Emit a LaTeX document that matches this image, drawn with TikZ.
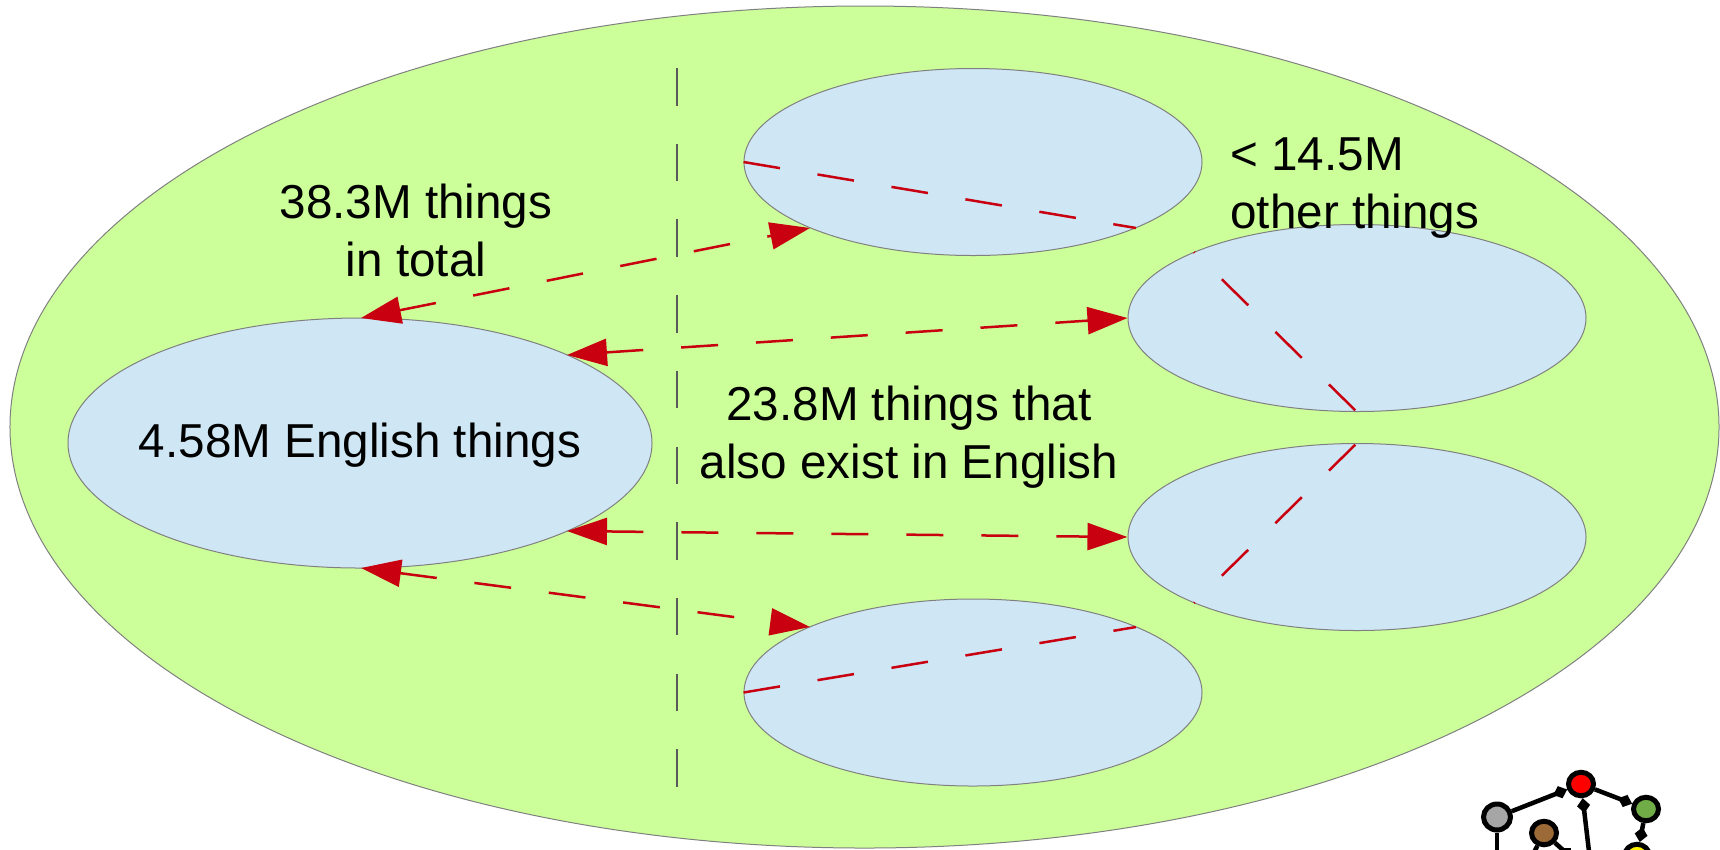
\documentclass[tikz,border=0pt]{standalone}
\usepackage{fontspec}
\setmainfont{Liberation Sans}
\usetikzlibrary{shapes.geometric,arrows.meta}
\definecolor{biggreen}{HTML}{CCFF99}
\definecolor{paleblue}{HTML}{CFE7F5}
\definecolor{linkred}{HTML}{C9000F}
\definecolor{edgegray}{HTML}{808080}
\definecolor{logogray}{HTML}{A6A6A6}
\definecolor{logobrown}{HTML}{9C6A36}
\definecolor{logogreen}{HTML}{70AD47}
\tikzset{
  x=0.2mm,y=-0.2mm,
  outer/.style={ellipse,draw=edgegray,line width=0.2mm,fill=biggreen,inner sep=0pt,minimum width=341.8mm,minimum height=168.4mm},
  lang/.style={ellipse,draw=edgegray,line width=0.2mm,fill=paleblue,inner sep=0pt,minimum width=91.6mm,minimum height=37.4mm},
  english/.style={ellipse,draw=edgegray,line width=0.2mm,fill=paleblue,inner sep=0pt,minimum width=116.8mm,minimum height=50mm},
  caption/.style={font=\fontsize{27.1pt}{33pt}\selectfont,align=center,inner sep=0pt},
  link/.style={draw=linkred,line width=0.5mm,dash pattern=on 7.4mm off 7.6mm},
  sitelink/.style={link,{Triangle[length=8mm,width=5.4mm,fill=linkred,color=linkred,sep=0pt]}-{Triangle[length=8mm,width=5.4mm,fill=linkred,color=linkred,sep=0pt]}},
  faint/.style={draw=linkred,line width=0.5mm,dash pattern=on 7.4mm off 7.6mm,dash phase=7.2mm},
  divider/.style={draw=black!65,line width=0.25mm,dash pattern=on 7.5mm off 7.64mm},
  logonode/.style={ellipse,draw=black,line width=1mm,inner sep=0pt,minimum width=5mm,minimum height=4.7mm},
  logolink/.style={draw=black,line width=0.9mm,-{Diamond[length=3mm,width=2.6mm]}},
  logoplain/.style={draw=black,line width=0.9mm}
}
\begin{document}
\begin{tikzpicture}
\useasboundingbox (0,0) rectangle (1720,849);
\node[outer] (all) at (864.5,427) {};
\node[english] (en) at (360,443) {};
\node[caption] (enlabel) at (360,445) {4.58M English things};
\node[lang] (top) at (973,162) {};
\node[lang] (ru) at (1357,318) {};
\node[lang] (rl) at (1357,537) {};
\node[lang] (bot) at (973,692.5) {};
\coordinate (divtop) at (677,68);
\coordinate (divbot) at (677,787);
\draw[divider] (divtop) -- (divbot);
\coordinate (enA) at (361,318);
\coordinate (enB) at (567,355);
\coordinate (enC) at (567,531);
\coordinate (enD) at (361,568);
\coordinate (topS) at (810,228);
\coordinate (botN) at (810,627);
\draw[sitelink] (enA) -- (topS);
\draw[sitelink] (enB) -- (ru.west);
\draw[sitelink] (enC) -- (rl.west);
\draw[sitelink] (enD) -- (botN);
\coordinate (t1) at (1136,228);
\coordinate (b1) at (1136,627);
\coordinate (r1) at (1194,252);
\coordinate (r2) at (1194,603);
\draw[link] (top.west) -- (t1);
\draw[link] (bot.west) -- (b1);
\draw[faint] (r1) -- (ru.south);
\draw[faint] (r2) -- (rl.north);
\node[caption] (total) at (416,230) {38.3M things\\in total};
\node[caption] (also) at (909,437) {23.8M things that\\also exist in English};
\node[caption,align=left,anchor=west] (other) at (1230,188) {< 14.5M\\other things};
\node[logonode,fill=red] (lr) at (1581,784) {};
\node[logonode,fill=logogray,minimum width=5.4mm,minimum height=5.2mm] (lg) at (1497,817) {};
\node[logonode,fill=logobrown] (lb) at (1544,833) {};
\node[logonode,fill=logogreen] (lv) at (1646,809) {};
\node[logonode,fill=yellow] (ly) at (1637,856) {};
\coordinate (lgd) at (1497,860);
\coordinate (lrd) at (1590,860);
\coordinate (lbd) at (1572,858);
\coordinate (lbl) at (1530,860);
\draw[logolink] (lg) -- (lr);
\draw[logolink] (lr) -- (lv);
\draw[logolink] (lv) -- (ly);
\draw[logolink] (lrd) -- (lr);
\draw[logolink] (lb) -- (lbd);
\draw[logoplain] (lg) -- (lgd);
\draw[logoplain] (lb) -- (lbl);
\end{tikzpicture}
\end{document}
